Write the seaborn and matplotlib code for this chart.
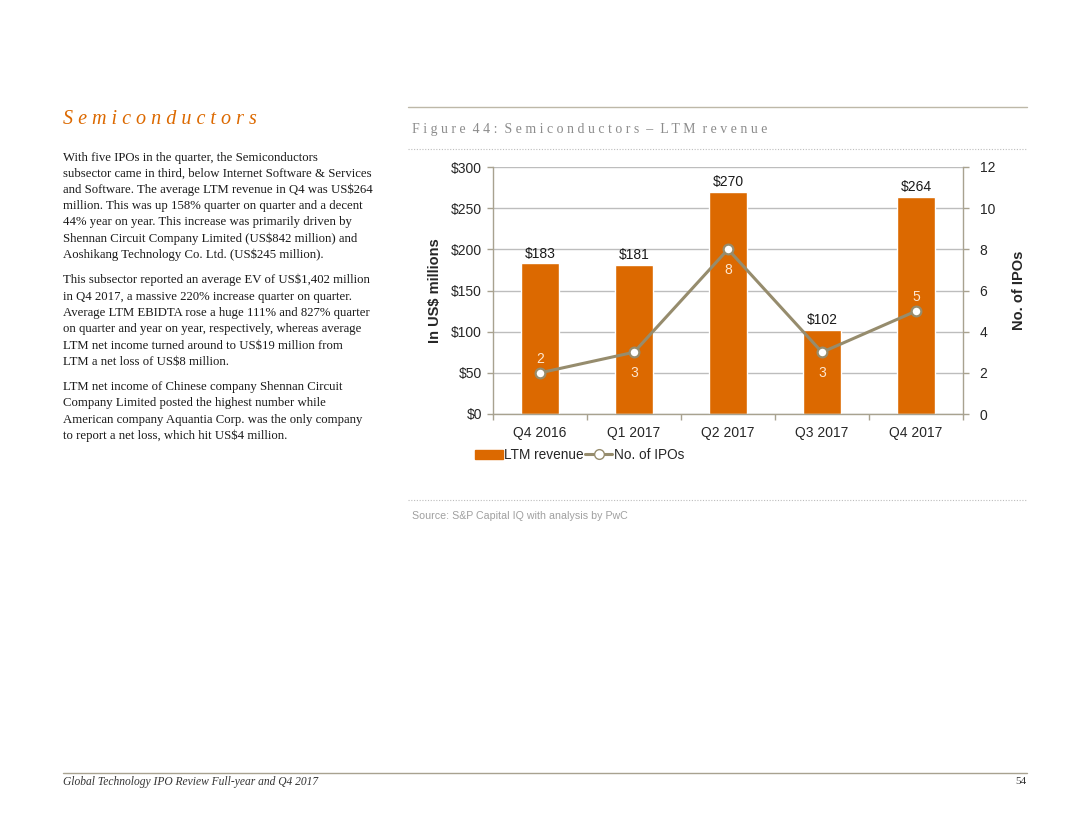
import matplotlib
matplotlib.use("Agg")
import matplotlib.pyplot as plt
import seaborn as sns
import numpy as np
from matplotlib.lines import Line2D
from matplotlib.patches import Patch

quarters = ["Q4 2016", "Q1 2017", "Q2 2017", "Q3 2017", "Q4 2017"]
revenue = [183, 181, 270, 102, 264]
ipos = [2, 3, 8, 3, 5]
ipo_label_above = [True, False, False, False, True]
left_ticks = [0, 50, 100, 150, 200, 250, 300]
right_ticks = [0, 2, 4, 6, 8, 10, 12]

ORANGE = "#DC6900"
LINE = "#968C6D"
SPINE = "#A8A290"
GRID = "#BDBDBD"
PEACH = "#FDE6CF"

sns.set_theme(style="white")
plt.rcParams["font.family"] = ["Liberation Sans", "DejaVu Sans"]

fig = plt.figure(figsize=(10.8, 8.35), dpi=100)
ax = fig.add_axes([493 / 1080, 1 - 414 / 835, 470 / 1080, 247 / 835])

sns.barplot(x=quarters, y=revenue, ax=ax, color=ORANGE, width=0.4,
            saturation=1, order=quarters, zorder=2)
ax.set_ylim(0, 300)
ax.set_xlim(-0.5, len(quarters) - 0.5)
ax.set_yticks(left_ticks)
ax.set_yticklabels([f"${v}" for v in left_ticks], fontsize=10)
ax.yaxis.grid(True, color=GRID, linewidth=1, zorder=0)
ax.set_axisbelow(True)
ax.set_xlabel("")
ax.set_ylabel("In US$ millions", fontsize=10.5, fontweight="bold", labelpad=6)
ax.tick_params(axis="x", labelsize=10, length=0, pad=9)
ax.tick_params(axis="y", left=True, length=4, width=1, color=SPINE, pad=4)
ax.set_xticks(np.arange(len(quarters)))
ax.set_xticks(np.arange(len(quarters) + 1) - 0.5, minor=True)
ax.tick_params(axis="x", which="minor", bottom=True, length=4, width=1, color=SPINE)
for s in ["top", "right"]:
    ax.spines[s].set_visible(False)
for s in ["left", "bottom"]:
    ax.spines[s].set_color(SPINE)
    ax.spines[s].set_linewidth(1)

for c in ax.containers:
    ax.bar_label(c, labels=[f"${v}" for v in revenue], padding=2, fontsize=10, color="#1a1a1a")

ax2 = ax.twinx()
sns.pointplot(x=quarters, y=ipos, ax=ax2, color=LINE, order=quarters,
              markers="o", linestyles="-", linewidth=2.2, markersize=7)
for ln in ax2.lines:
    ln.set_markerfacecolor("white")
    ln.set_markeredgecolor(LINE)
    ln.set_markeredgewidth(1.6)
    ln.set_zorder(4)
ax2.set_ylim(0, 12)
ax2.set_xlim(-0.5, len(quarters) - 0.5)
ax2.set_yticks(right_ticks)
ax2.set_yticklabels([str(v) for v in right_ticks], fontsize=10)
ax2.tick_params(axis="y", right=True, length=4, width=1, color=SPINE, pad=8)
ax2.set_ylabel("No. of IPOs", fontsize=10.5, fontweight="bold", labelpad=12)
ax2.grid(False)
for s in ["top", "left", "bottom"]:
    ax2.spines[s].set_visible(False)
ax2.spines["right"].set_color(SPINE)
ax2.spines["right"].set_linewidth(1)

for i, (v, above) in enumerate(zip(ipos, ipo_label_above)):
    ax2.annotate(str(v), (i, v), xytext=(0, 5 if above else -10),
                 textcoords="offset points", ha="center",
                 va="bottom" if above else "top", fontsize=10, color=PEACH, zorder=5)

# legend
handles = [Patch(facecolor=ORANGE, edgecolor=ORANGE),
           Line2D([0], [0], color=LINE, lw=2.2, marker="o", markersize=7,
                  markerfacecolor="white", markeredgecolor=LINE)]
fig.legend(handles, ["LTM revenue", "No. of IPOs"], loc="center left",
           bbox_to_anchor=(470 / 1080, 1 - 455 / 835), ncol=2, frameon=False,
           fontsize=9.8, handlelength=2.0, handletextpad=0.1, columnspacing=0.1,
           borderaxespad=0, handleheight=0.6)

# page decorations
serif = ["Liberation Serif", "DejaVu Serif"]
fig.text(63 / 1080, 1 - 120 / 835, "S e m i c o n d u c t o r s", color=ORANGE,
         fontsize=14.5, style="italic", family=serif, va="center", ha="left")

body = [
    ("With five IPOs in the quarter, the Semiconductors", 158),
    ("subsector came in third, below Internet Software & Services", 174),
    ("and Software. The average LTM revenue in Q4 was US$264", 190),
    ("million. This was up 158% quarter on quarter and a decent", 206),
    ("44% year on year. This increase was primarily driven by", 222),
    ("Shennan Circuit Company Limited (US$842 million) and", 239),
    ("Aoshikang Technology Co. Ltd. (US$245 million).", 255),
    ("This subsector reported an average EV of US$1,402 million", 280),
    ("in Q4 2017, a massive 220% increase quarter on quarter.", 297),
    ("Average LTM EBIDTA rose a huge 111% and 827% quarter", 313),
    ("on quarter and year on year, respectively, whereas average", 329),
    ("LTM net income turned around to US$19 million from", 346),
    ("LTM a net loss of US$8 million.", 362),
    ("LTM net income of Chinese company Shennan Circuit", 387),
    ("Company Limited posted the highest number while", 403),
    ("American company Aquantia Corp. was the only company", 420),
    ("to report a net loss, which hit US$4 million.", 436),
]
for txt, y in body:
    fig.text(63 / 1080, 1 - y / 835, txt, fontsize=9.2, family=serif,
             color="#1a1a1a", va="center", ha="left")

fig.add_artist(Line2D([408 / 1080, 1027 / 1080], [1 - 107 / 835] * 2,
                      color="#BDB8A8", lw=1))
fig.text(412 / 1080, 1 - 129 / 835, "F i g u r e  4 4 :  S e m i c o n d u c t o r s  –  L T M  r e v e n u e",
         fontsize=10.0, family=serif, color="#8C8C8C", va="center", ha="left")
fig.add_artist(Line2D([408 / 1080, 1027 / 1080], [1 - 149 / 835] * 2,
                      color="#BDBDBD", lw=0.8, ls=(0, (1, 1.5))))
fig.add_artist(Line2D([408 / 1080, 1027 / 1080], [1 - 500 / 835] * 2,
                      color="#BDBDBD", lw=0.8, ls=(0, (1, 1.5))))
fig.text(412 / 1080, 1 - 516 / 835, "Source: S&P Capital IQ with analysis by PwC",
         fontsize=7.7, color="#A0A0A0", va="center", ha="left")

fig.add_artist(Line2D([63 / 1080, 1027 / 1080], [1 - 773 / 835] * 2,
                      color="#A8A290", lw=1))
fig.text(63 / 1080, 1 - 782 / 835, "Global Technology IPO Review Full-year and Q4 2017",
         fontsize=8.3, style="italic", family=serif, color="#333333", va="center", ha="left")
fig.text(1026 / 1080, 1 - 782 / 835, "54", fontsize=8, family=serif,
         color="#333333", va="center", ha="right")

fig.savefig("out.png", dpi=100)
